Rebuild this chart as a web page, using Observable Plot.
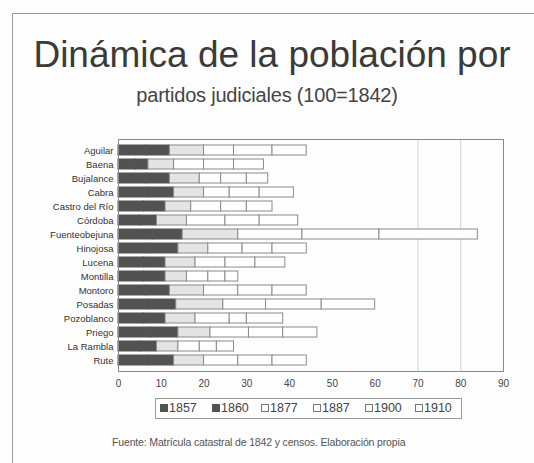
<!DOCTYPE html>
<html>
<head>
<meta charset="utf-8">
<script src="https://cdn.jsdelivr.net/npm/d3@7"></script>
<script src="https://cdn.jsdelivr.net/npm/@observablehq/plot@0.6"></script>
<style>
  html, body { margin: 0; padding: 0; background: #fdfdfd; }
  body { width: 534px; height: 463px; position: relative; overflow: hidden; font-family: "Liberation Sans", Arial, sans-serif; }
  #frame { position: absolute; left: 12px; top: 13px; width: 540px; height: 470px; border-top: 1px solid #9a9a9a; border-left: 1px solid #9a9a9a; }
  #title { position: absolute; left: 0; width: 544px; top: 36px; text-align: center; font-size: 37px; color: #3a3a3a; line-height: 1; }
  #subtitle { position: absolute; left: 0; width: 534px; top: 85px; text-align: center; font-size: 20px; color: #444; line-height: 1; letter-spacing: -0.2px; }
  #chart { position: absolute; left: 0; top: 130px; }
  #legend { position: absolute; left: 155px; top: 398px; width: 305px; height: 19px; border: 1px solid #9a9a9a; display: flex; align-items: center; font-size: 12.5px; color: #444; }
  #legend .item { position: absolute; display: flex; align-items: center; top: 2px; }
  #legend .sw { width: 8px; height: 8px; margin-right: 1px; box-sizing: border-box; border: 1px solid #777; }
  #caption { position: absolute; left: 112px; top: 436px; font-size: 10.5px; color: #555; letter-spacing: -0.15px; }
</style>
</head>
<body>
<div id="frame"></div>
<div id="title">Dinámica de la población por</div>
<div id="subtitle">partidos judiciales (100=1842)</div>
<div id="chart"></div>
<div id="legend"></div>
<div id="caption">Fuente: Matrícula catastral de 1842 y censos. Elaboración propia</div>
<script>
const partidos = ["Aguilar","Baena","Bujalance","Cabra","Castro del Río","Córdoba","Fuenteobejuna","Hinojosa","Lucena","Montilla","Montoro","Posadas","Pozoblanco","Priego","La Rambla","Rute"];
const years = ["1857","1860","1877","1887","1900","1910"];
const v1857 = [6.5, 4, 6.5, 7, 6, 5, 8, 7.5, 6, 6, 6.5, 7, 6, 7.5, 5, 7];
const v1860 = [5.5, 3, 5.5, 6, 5, 4, 7, 6.5, 5, 5, 5.5, 6.5, 5, 6.5, 4, 6];
const v1877 = [8, 6, 7, 7, 6, 7, 13, 7, 7, 5, 8, 11, 7, 7.5, 5, 7];
const v1887 = [7, 7, 5, 6, 7, 9, 15, 8, 7, 5, 8, 10, 8, 9, 5, 8];
const v1900 = [9, 7, 6, 7, 6, 8, 18, 7, 7, 4, 8, 13, 4, 8, 4, 8];
const v1910 = [8, 7, 5, 8, 6, 9, 23, 8, 7, 3, 8, 12.5, 8.5, 8, 4, 8];
const xTicks = [0,10,20,30,40,50,60,70,80,90];
const gridTicks = [70, 80];

const series = [v1857, v1860, v1877, v1887, v1900, v1910];
const fills = ["#525252", "#525252", "#e4e4e4", "#ffffff", "#ffffff", "#ffffff"];
const strokes = ["#525252", "#525252", "#8a8a8a", "#8a8a8a", "#8a8a8a", "#8a8a8a"];

const rows = [];
partidos.forEach((p, i) => {
  years.forEach((y, j) => rows.push({partido: p, year: y, value: series[j][i]}));
});
const strokeOf = Object.fromEntries(years.map((y, j) => [y, strokes[j]]));
const fillOf = Object.fromEntries(years.map((y, j) => [y, fills[j]]));

const chart = Plot.plot({
  width: 534,
  height: 263,
  marginLeft: 118,
  marginRight: 31,
  marginTop: 9,
  marginBottom: 22,
  style: {background: "transparent", fontFamily: "Liberation Sans, Arial, sans-serif"},
  x: {domain: [0, 90], ticks: xTicks, label: null},
  y: {domain: partidos, padding: 0.3, label: null},
  marks: [
    Plot.ruleX(gridTicks, {stroke: "#d4d4d4", strokeWidth: 1}),
    Plot.barX(rows, Plot.stackX({x: "value", y: "partido", z: "year", fill: d => fillOf[d.year], stroke: d => strokeOf[d.year], strokeWidth: 1})),
    Plot.frame({stroke: "#8a8a8a"}),
    Plot.axisX({ticks: xTicks, tickSize: 0, tickPadding: 8, fontSize: 10, fill: "#444", label: null}),
    Plot.axisY({tickSize: 0, tickPadding: 5, fontSize: 9.5, fill: "#333", label: null, style: {letterSpacing: "-0.35px"}})
  ]
});
document.getElementById("chart").appendChild(chart);

const legend = document.getElementById("legend");
const legendX = [4, 56, 105, 157, 209, 259];
years.forEach((y, j) => {
  const it = document.createElement("div");
  it.className = "item";
  it.style.left = legendX[j] + "px";
  const sw = document.createElement("div");
  sw.className = "sw";
  sw.style.background = j < 2 ? fills[j] : "#ffffff";
  if (j < 2) sw.style.borderColor = fills[j];
  it.appendChild(sw);
  const t = document.createElement("span");
  t.textContent = y;
  it.appendChild(t);
  legend.appendChild(it);
});
</script>
</body>
</html>
